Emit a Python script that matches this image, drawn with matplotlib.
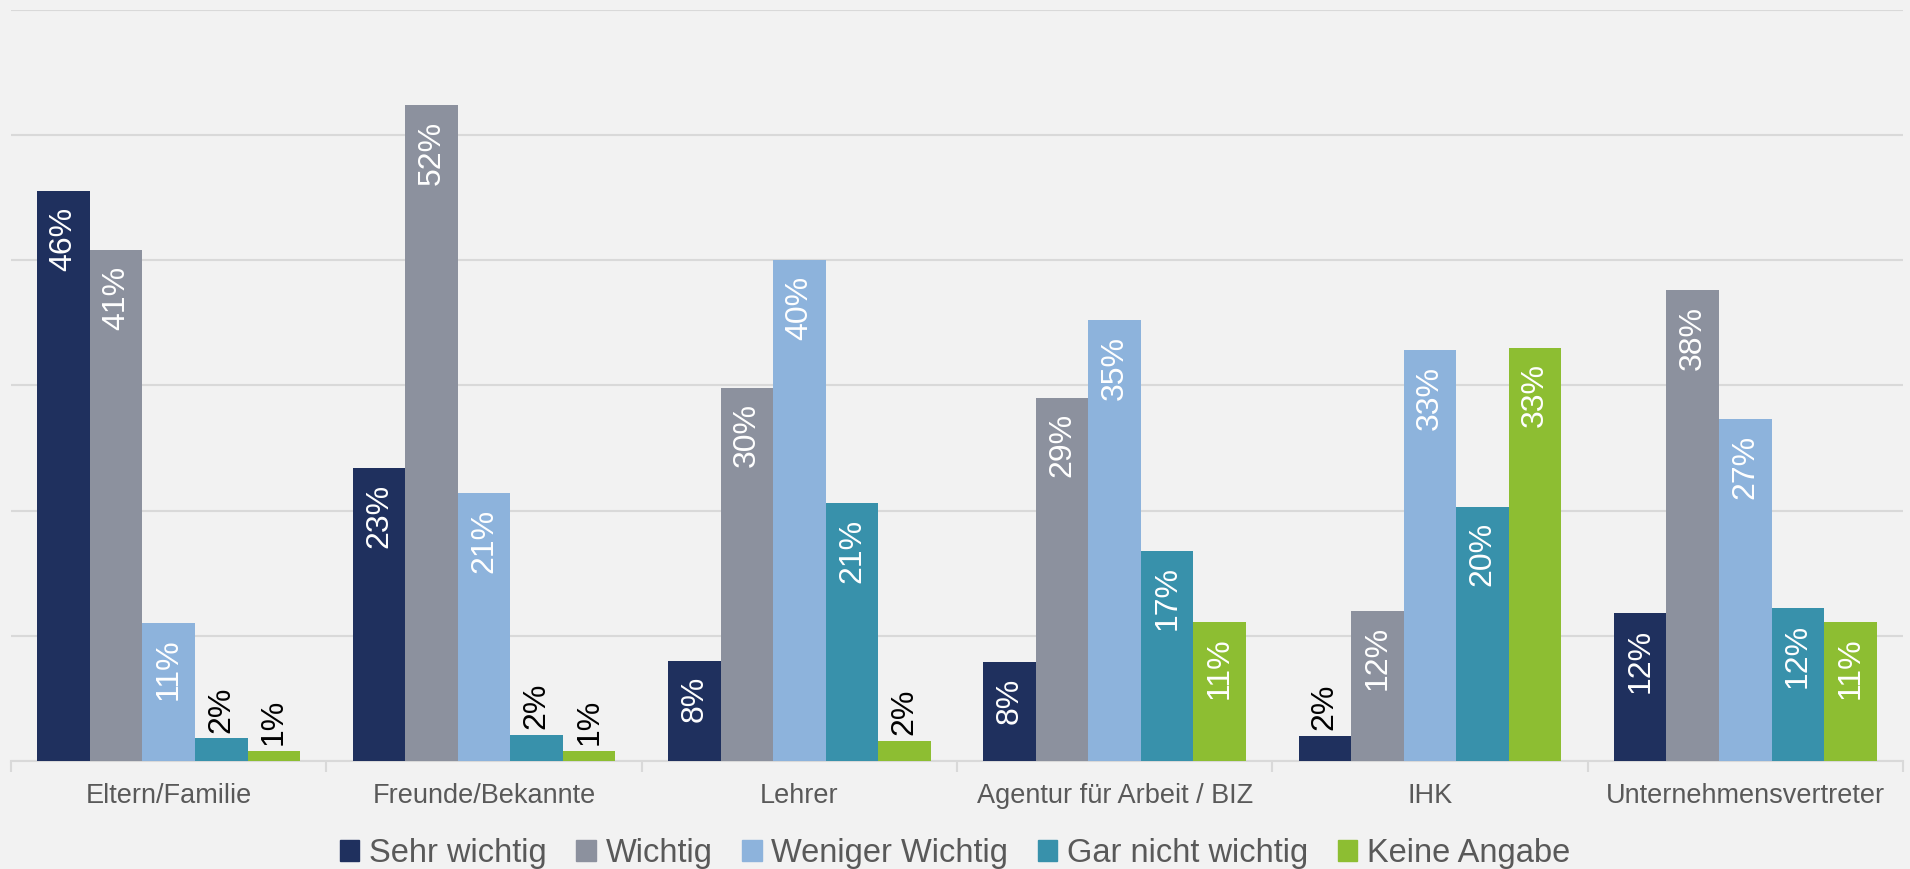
import numpy as np
from matplotlib import pyplot as plt
from matplotlib.patches import Patch

plt.rcParams['font.family'] = ['Liberation Sans', 'DejaVu Sans']

kategorien = ['Eltern/Familie', 'Freunde/Bekannte', 'Lehrer',
              'Agentur für Arbeit / BIZ', 'IHK', 'Unternehmensvertreter']
serien = ['Sehr wichtig', 'Wichtig', 'Weniger Wichtig',
          'Gar nicht wichtig', 'Keine Angabe']

sehr_wichtig = [45.5, 23.4, 8.0, 7.9, 2.0, 11.8]
wichtig = [40.8, 52.4, 29.8, 29.0, 12.0, 37.6]
weniger_wichtig = [11.0, 21.4, 40.0, 35.2, 32.8, 27.3]
gar_nicht = [1.8, 2.1, 20.6, 16.8, 20.3, 12.2]
keine_angabe = [0.8, 0.8, 1.6, 11.1, 33.0, 11.1]

labels_pct = [
    [46, 23, 8, 8, 2, 12],
    [41, 52, 30, 29, 12, 38],
    [11, 21, 40, 35, 33, 27],
    [2, 2, 21, 17, 20, 12],
    [1, 1, 2, 11, 33, 11],
]

werte = [sehr_wichtig, wichtig, weniger_wichtig, gar_nicht, keine_angabe]
farben = ['#1F305E', '#8C919E', '#8DB3DC', '#3891AB', '#8DBE32']

bg = '#F2F2F2'
fig = plt.figure(figsize=(19.1, 8.69), dpi=100, facecolor=bg)
ax = fig.add_axes([0.0058, 0.1243, 0.9905, 0.8642])
ax.set_facecolor(bg)

x = np.arange(len(kategorien))
breite = 1 / 6

for i, (vals, farbe) in enumerate(zip(werte, farben)):
    pos = x + (i - 2) * breite
    ax.bar(pos, vals, width=breite, color=farbe, zorder=3)
    for xp, v, lab in zip(pos, vals, labels_pct[i]):
        if v >= 5:
            ax.annotate(f'{lab}%', (xp, v), xytext=(0, -11),
                        textcoords='offset points', rotation=90,
                        ha='center', va='top', color='white',
                        fontsize=23, zorder=4)
        else:
            ax.annotate(f'{lab}%', (xp, v), xytext=(0, 4),
                        textcoords='offset points', rotation=90,
                        ha='center', va='bottom', color='black',
                        fontsize=23, zorder=4)

ax.set_ylim(0, 60)
ax.set_xlim(-0.5, len(kategorien) - 0.5)
ax.set_yticks(range(0, 61, 10))
ax.yaxis.grid(True, color='#D9D9D9', linewidth=1.5, zorder=0)
ax.tick_params(axis='y', left=False, labelleft=False)

# tick marks on the group borders, labels in the middle
ax.set_xticks(np.arange(-0.5, len(kategorien)), labels=[])
ax.tick_params(axis='x', which='major', length=8, color='#D9D9D9', width=1.5)
ax.set_xticks(x, labels=kategorien, minor=True)
ax.tick_params(axis='x', which='minor', length=0, pad=16,
               labelsize=19.5, labelcolor='#595959')

for s in ['left', 'right', 'top']:
    ax.spines[s].set_visible(False)
ax.spines['bottom'].set_color('#D9D9D9')
ax.spines['bottom'].set_linewidth(1.5)

handles = [Patch(color=f) for f in farben]
fig.legend(handles, serien, loc='center', bbox_to_anchor=(0.5, 0.018),
           ncol=5, frameon=False, fontsize=23.5, labelcolor='#595959',
           handlelength=0.6, handleheight=0.6, handletextpad=0.3,
           columnspacing=0.9, borderpad=0)

fig.savefig('out.png', dpi=100, facecolor=bg)
